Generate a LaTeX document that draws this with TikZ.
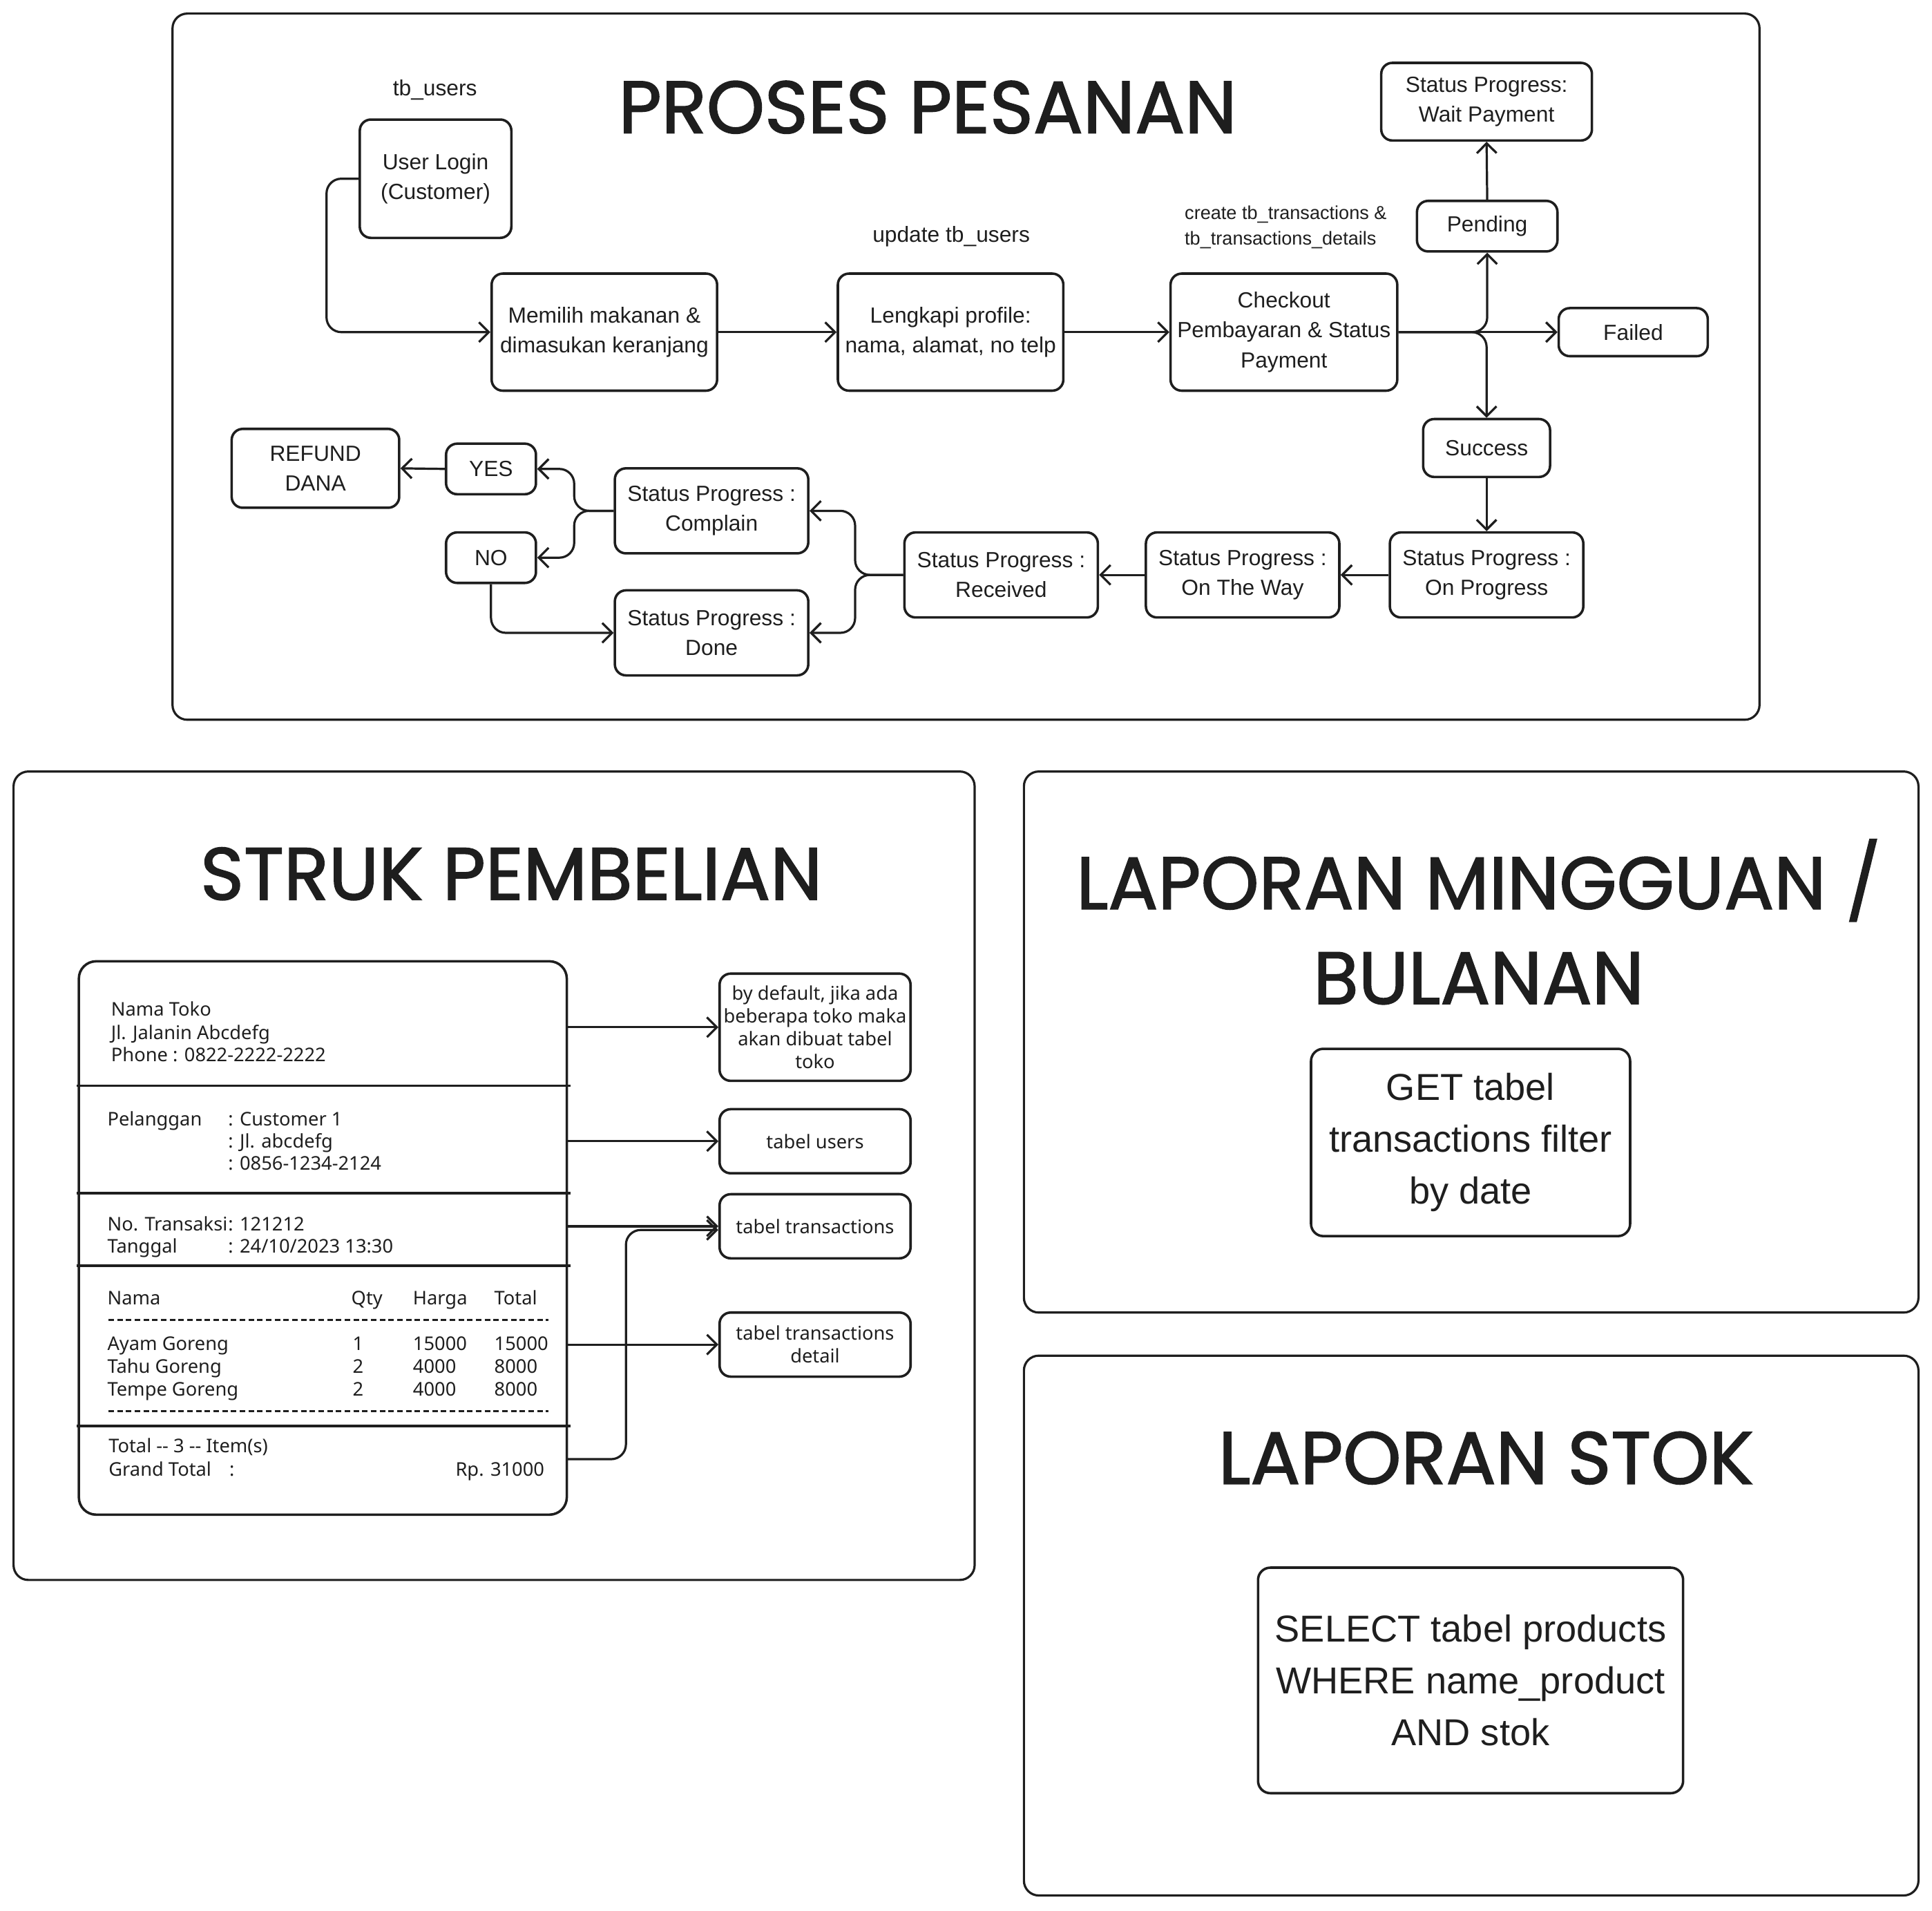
\documentclass[tikz,border=0pt]{standalone}
\usepackage{fontspec}
\setmainfont{Liberation Sans}
\newfontfamily\titlefont{Poppins}[FakeBold=1.6]
\newfontfamily\struk{Noto Sans}
\usetikzlibrary{arrows.meta,positioning}

\definecolor{ink}{RGB}{30,30,30}

\tikzset{
  panel/.style={draw=ink, line width=1.8pt, rounded corners=12pt},
  judul/.style={text=ink, font=\titlefont\fontsize{60}{77}\selectfont, align=center},
  catatan/.style={text=ink, font=\fontsize{17.8}{24}\selectfont, align=center},
  stepbox/.style={draw=ink, line width=2pt, rounded corners=9pt, text=ink,
    align=center, inner sep=0pt, font=\fontsize{17.8}{24.4}\selectfont},
  notebox/.style={draw=ink, line width=2pt, rounded corners=9pt, text=ink,
    align=center, inner sep=0pt, minimum width=155pt, font=\struk\fontsize{15.3}{18.5}\selectfont},
  bigbox/.style={draw=ink, line width=2pt, rounded corners=10pt, text=ink,
    align=center, inner sep=0pt, font=\fontsize{30.4}{42}\selectfont},
  rtext/.style={text=ink, anchor=base west, inner sep=0pt, font=\struk\fontsize{15.3}{18.5}\selectfont},
  arr/.style={draw=ink, line width=1.8pt, rounded corners=12pt, -{Straight Barb[length=8pt,width=16pt]}},
  garis/.style={draw=ink, line width=2pt}
}

\begin{document}
\begin{tikzpicture}[x=1pt,y=-1pt]
\useasboundingbox (0,0) rectangle (1568,1550.6);

% 1. Panel proses pesanan
\draw[panel] (140,11) rectangle (1428,584);
\node[judul] (jproses) at (753,87) {PROSES PESANAN};

\node[catatan] (ltbusers) at (353,73) {tb\_users};
\node[catatan] (lupdate) at (772,192) {update tb\_users};
\node[catatan, anchor=west, align=left, font=\fontsize{15.2}{21}\selectfont] (lcreate) at (958,184.5) {create tb\_transactions \&\\tb\_transactions\_details};

\node[stepbox, minimum width=123pt, minimum height=96pt] (login) at (353.5,145) {User Login\\(Customer)};
\node[stepbox, minimum width=183pt, minimum height=95pt] (pilih) at (490.5,269.5) {Memilih makanan \&\\dimasukan keranjang};
\node[stepbox, minimum width=183pt, minimum height=95pt] (profil) at (771.5,269.5) {Lengkapi profile:\\nama, alamat, no telp};
\node[stepbox, minimum width=184pt, minimum height=95pt] (checkout) at (1042,269.5) {Checkout\\Pembayaran \& Status\\Payment};

\node[stepbox, minimum width=171pt, minimum height=63pt] (wait) at (1206.5,82.5) {Status Progress:\\Wait Payment};
\node[stepbox, minimum width=114pt, minimum height=41pt] (pending) at (1207,183.5) {Pending};
\node[stepbox, minimum width=121pt, minimum height=39pt] (failed) at (1325.5,269.5) {Failed};
\node[stepbox, minimum width=103pt, minimum height=47pt] (success) at (1206.5,363.5) {Success};

% 2. Status pengiriman
\node[stepbox, minimum width=157pt, minimum height=69pt] (onprog) at (1206.5,466.5) {Status Progress :\\On Progress};
\node[stepbox, minimum width=157pt, minimum height=69pt] (otw) at (1008.5,466.5) {Status Progress :\\On The Way};
\node[stepbox, minimum width=157pt, minimum height=69pt] (received) at (812.5,466.5) {Status Progress :\\Received};
\node[stepbox, minimum width=157pt, minimum height=69pt] (complain) at (577.5,414.5) {Status Progress :\\Complain};
\node[stepbox, minimum width=157pt, minimum height=69pt] (done) at (577.5,513.5) {Status Progress :\\Done};
\node[stepbox, minimum width=73pt, minimum height=41pt] (yes) at (398.5,380.5) {YES};
\node[stepbox, minimum width=73pt, minimum height=41pt] (no) at (398.5,452.5) {NO};
\node[stepbox, minimum width=136pt, minimum height=64pt] (refund) at (256,380) {REFUND\\DANA};

\draw[arr] (login.west) -- ++(-26,0) |- (pilih.west);
\draw[arr] (pilih.east) -- (profil.west);
\draw[arr] (profil.east) -- (checkout.west);
\draw[arr] (checkout.east) -| (pending.south);
\draw[arr] (checkout.east) -- (failed.west);
\draw[arr] (checkout.east) -| (success.north);
\draw[arr] (pending.north) -- (wait.south);
\draw[arr] (success.south) -- (onprog.north);
\draw[arr] (onprog.west) -- (otw.east);
\draw[arr] (otw.west) -- (received.east);
\draw[arr] (received.west) -- ++(-39,0) |- (complain.east);
\draw[arr] (received.west) -- ++(-39,0) |- (done.east);
\draw[arr] (complain.west) -- ++(-32,0) |- (yes.east);
\draw[arr] (complain.west) -- ++(-32,0) |- (no.east);
\draw[arr] (yes.west) -- (refund.east);
\draw[arr] (no.south) |- (done.west);

% 3. Panel struk pembelian
\draw[panel] (11,626) rectangle (791,1282);
\node[judul] (jstruk) at (415,709) {STRUK PEMBELIAN};

\node[draw=ink, line width=2pt, rounded corners=14pt, minimum width=396pt, minimum height=449pt] (receipt) at (262,1004.5) {};
\foreach \y in {881,968,1027,1157} {
    \draw[garis] (62,\y) -- (463,\y);
}
\foreach \y in {1071,1145} {
    \draw[ink, line width=1.3pt, dash pattern=on 4.5pt off 2.6pt] (88,\y) -- (445,\y);
}

\node[rtext] (toko1) at (90,824.5) {Nama Toko};
\node[rtext] (toko2) at (90,843.5) {Jl. Jalanin Abcdefg};
\node[rtext] (toko3) at (90,861.5) {Phone : 0822-2222-2222};

\node[rtext] (pel) at (87,913.5) {Pelanggan};
\node[rtext] (pel1) at (185,913.5) {: Customer 1};
\node[rtext] (pel2) at (185,931.5) {: Jl. abcdefg};
\node[rtext] (pel3) at (185,949.5) {: 0856-1234-2124};

\node[rtext] (trx) at (87,998.5) {No. Transaksi};
\node[rtext] (trx1) at (185,998.5) {: 121212};
\node[rtext] (tgl) at (87,1016.5) {Tanggal};
\node[rtext] (tgl1) at (185,1016.5) {: 24/10/2023 13:30};

\node[rtext] (hnama) at (87,1058.5) {Nama};
\node[rtext] (hqty) at (285,1058.5) {Qty};
\node[rtext] (hharga) at (335,1058.5) {Harga};
\node[rtext] (htotal) at (401,1058.5) {Total};
\foreach \nama/\qty/\harga/\jml [count=\i] in {Ayam Goreng/1/15000/15000, Tahu Goreng/2/4000/8000, Tempe Goreng/2/4000/8000} {
    \pgfmathsetmacro\yb{1095.5+18.5*(\i-1)}
    \node[rtext] (item\i) at (87,\yb) {\nama};
    \node[rtext] (qty\i) at (286,\yb) {\qty};
    \node[rtext] (harga\i) at (335,\yb) {\harga};
    \node[rtext] (jml\i) at (401,\yb) {\jml};
}

\node[rtext] (titem) at (88,1178.5) {Total -- 3 -- Item(s)};
\node[rtext] (gtotal) at (88,1197.5) {Grand Total};
\node[rtext] (gtitik) at (186,1197.5) {:};
\node[rtext, anchor=base east] (gtrp) at (442,1197.5) {Rp. 31000};

\node[notebox, minimum height=87pt] (ntoko) at (661.5,833.5) {by default, jika ada\\beberapa toko maka\\akan dibuat tabel\\toko};
\node[notebox, minimum height=52pt] (nusers) at (661.5,926) {tabel users};
\node[notebox, minimum height=52pt] (ntrx) at (661.5,995) {tabel transactions};
\node[notebox, minimum height=52pt] (ndetail) at (661.5,1091) {tabel transactions\\detail};

\draw[arr] (receipt.east |- ntoko.west) -- (ntoko.west);
\draw[arr] (receipt.east |- nusers.west) -- (nusers.west);
\draw[arr] (receipt.east |- ntrx.west) -- (ntrx.west);
\draw[arr] (receipt.east |- ndetail.west) -- (ndetail.west);
\coordinate (gtout) at (460,1184);
\draw[arr] (gtout) -- ++(48,0) |- ([yshift=-3pt]ntrx.west);

% 4. Panel laporan mingguan / bulanan
\draw[panel] (831,626) rectangle (1557,1065);
\node[judul] (jlaporan) at (1200,748) {LAPORAN MINGGUAN /\\BULANAN};
\node[bigbox, minimum width=259pt, minimum height=152pt] (get) at (1193.5,927) {GET tabel\\transactions filter\\by date};

% 5. Panel laporan stok
\draw[panel] (831,1100) rectangle (1557,1538);
\node[judul] (jstok) at (1206,1183) {LAPORAN STOK};
\node[bigbox, minimum width=345pt, minimum height=183pt] (select) at (1193.5,1363.5) {SELECT tabel products\\WHERE name\_product\\AND stok};
\end{tikzpicture}
\end{document}
